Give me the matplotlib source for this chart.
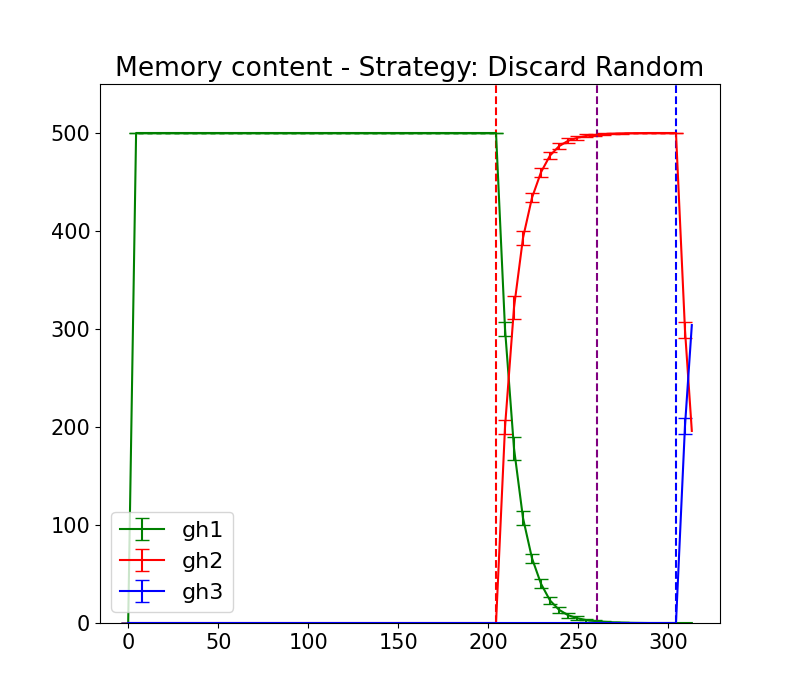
import numpy as np
import matplotlib
matplotlib.use('Agg')
import matplotlib.pyplot as plt

plt.rcParams['font.size'] = 15

# time grid: first sample, then every 5 steps, then the final (partial) step
t = np.concatenate([[0.0], np.arange(4.4, 310, 5.0), [313.2]])

gh1 = ([0] + [500] * 41 +
       [300, 178, 107, 66, 40, 23, 13.5, 8, 5, 3, 2, 1.2, 0.7, 0.4, 0.2, 0.1, 0, 0, 0, 0] +
       [0, 0])
gh2 = ([0] * 42 +
       [200, 322, 393, 434, 460, 477, 486.5, 492, 495, 497, 498, 498.8, 499.3, 499.6, 499.8, 499.9, 500, 500, 500, 500] +
       [299, 196])
gh3 = [0] * 62 + [201, 304]

err12 = ([0] * 42 +
         [7.5, 12, 7, 4.5, 4.5, 4, 3, 2.5, 2, 1.5, 1, 0.7, 0.5, 0.3, 0.2, 0.1, 0, 0, 0, 0] +
         [0, np.nan])
err2 = err12[:62] + [8, np.nan]
err3 = [0] * 62 + [8, np.nan]

arrivals = {'red': 204.4, 'purple': 260.6, 'blue': 304.4}

fig, ax = plt.subplots(figsize=(8, 7), dpi=100)

ax.errorbar(t, gh1, yerr=err12, color='green', capsize=5, label='gh1')
ax.errorbar(t, gh2, yerr=err2, color='red', capsize=5, label='gh2')
ax.errorbar(t, gh3, yerr=err3, color='blue', capsize=5, label='gh3')

for c, xv in arrivals.items():
    ax.axvline(xv, color=c, linestyle='--')

ax.set_ylim(0, 550)
ax.set_title('Memory content - Strategy: Discard Random', fontsize=19)
ax.legend(loc='lower left', fontsize=16)

fig.savefig('out.png')
